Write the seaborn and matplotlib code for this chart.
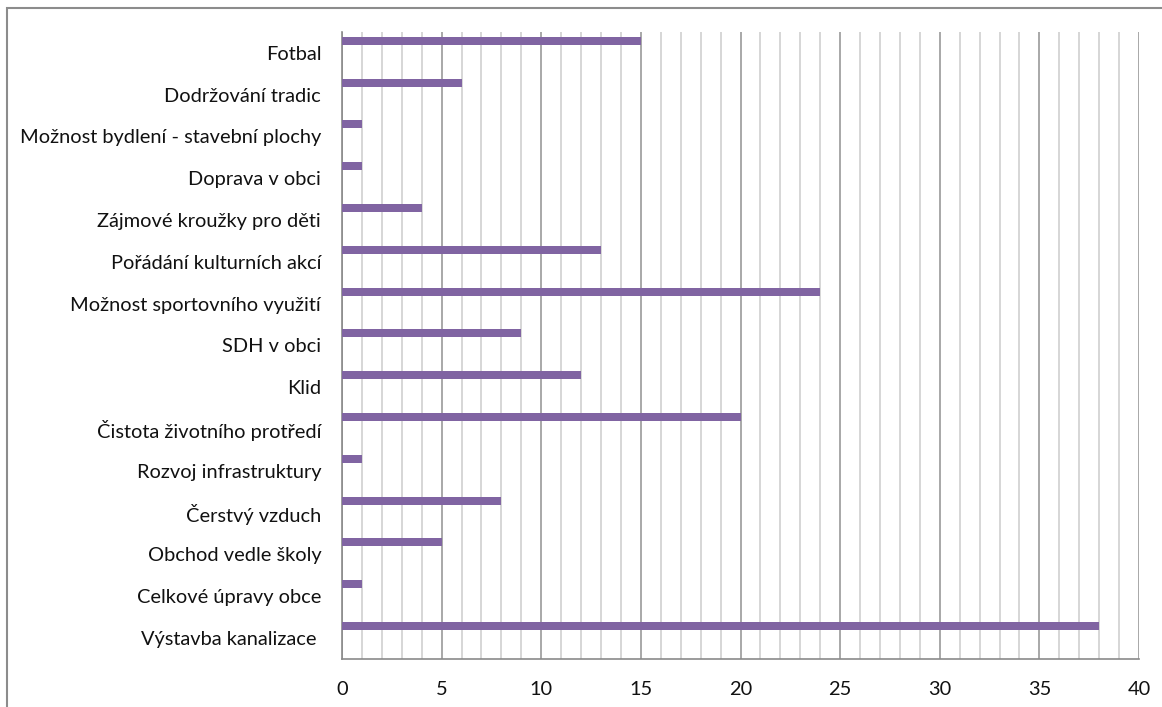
import matplotlib
matplotlib.use("Agg")
import matplotlib.pyplot as plt
import seaborn as sns
import pandas as pd
import numpy as np
from matplotlib.patches import Rectangle
from matplotlib.ticker import MultipleLocator

categories = [
    "Fotbal",
    "Dodržování tradic",
    "Možnost bydlení - stavební plochy",
    "Doprava v obci",
    "Zájmové kroužky pro děti",
    "Pořádání kulturních akcí",
    "Možnost sportovního využití",
    "SDH v obci",
    "Klid",
    "Čistota životního protředí",
    "Rozvoj infrastruktury",
    "Čerstvý vzduch",
    "Obchod vedle školy",
    "Celkové úpravy obce",
    "Výstavba kanalizace ",
]
values = [15, 6, 1, 1, 4, 13, 24, 9, 12, 20, 1, 8, 5, 1, 38]
x_ticks = [0, 5, 10, 15, 20, 25, 30, 35, 40]

df = pd.DataFrame({"cat": categories, "val": values})

sns.set_style("white")
plt.rcParams["font.family"] = ["Lato", "DejaVu Sans"]

W, H = 1162, 707
fig = plt.figure(figsize=(W / 100, H / 100), dpi=100)
ax = fig.add_axes([342 / W, 1 - 659 / H, (1139 - 342) / W, (659 - 32) / H])

bar_h = 0.19
sns.barplot(data=df, x="val", y="cat", orient="h", color="#8064A2",
            width=bar_h, saturation=1, ax=ax, zorder=3)
for p in ax.patches:
    p.set_y(p.get_y() - 0.29)
    p.set_edgecolor("none")

ax.set_xlim(0, 40)
ax.set_ylim(len(categories) - 0.5, -0.5)

# gridlines
ax.xaxis.set_major_locator(MultipleLocator(5))
ax.xaxis.set_minor_locator(MultipleLocator(1))
ax.grid(False)
ax.grid(which="major", axis="x", color="#9a9a9a", linewidth=1.2, zorder=1)
ax.grid(which="minor", axis="x", color="#cfcfcf", linewidth=1.2, zorder=1)
ax.set_axisbelow(True)

ax.set_xticks(x_ticks)
ax.set_xticklabels([str(t) for t in x_ticks])
ax.tick_params(axis="x", which="major", length=4, width=1, color="#8a8a8a",
               direction="out", labelsize=14.4, pad=12, labelcolor="#111111")
ax.tick_params(axis="x", which="minor", length=0)

ax.set_yticks(range(len(categories)))
ax.set_yticklabels(categories)
ax.set_yticks(np.arange(-0.5, len(categories)), minor=True)
ax.tick_params(axis="y", which="major", length=0, labelsize=14.4, pad=15,
               labelcolor="#111111")
ax.tick_params(axis="y", which="minor", length=5, width=1, color="#8a8a8a",
               direction="out")

ax.set_xlabel("")
ax.set_ylabel("")
for s in ["top", "right"]:
    ax.spines[s].set_visible(False)
for s in ["left", "bottom"]:
    ax.spines[s].set_color("#8a8a8a")
    ax.spines[s].set_linewidth(1.2)

# outer chart-area frame (cut off at right and bottom)
fig.add_artist(Rectangle((7 / W, -0.1), 1.2, 1.1 - 8 / H,
                         transform=fig.transFigure, fill=False,
                         edgecolor="#8c8c8c", linewidth=1.5))

fig.savefig("out.png", dpi=100)
